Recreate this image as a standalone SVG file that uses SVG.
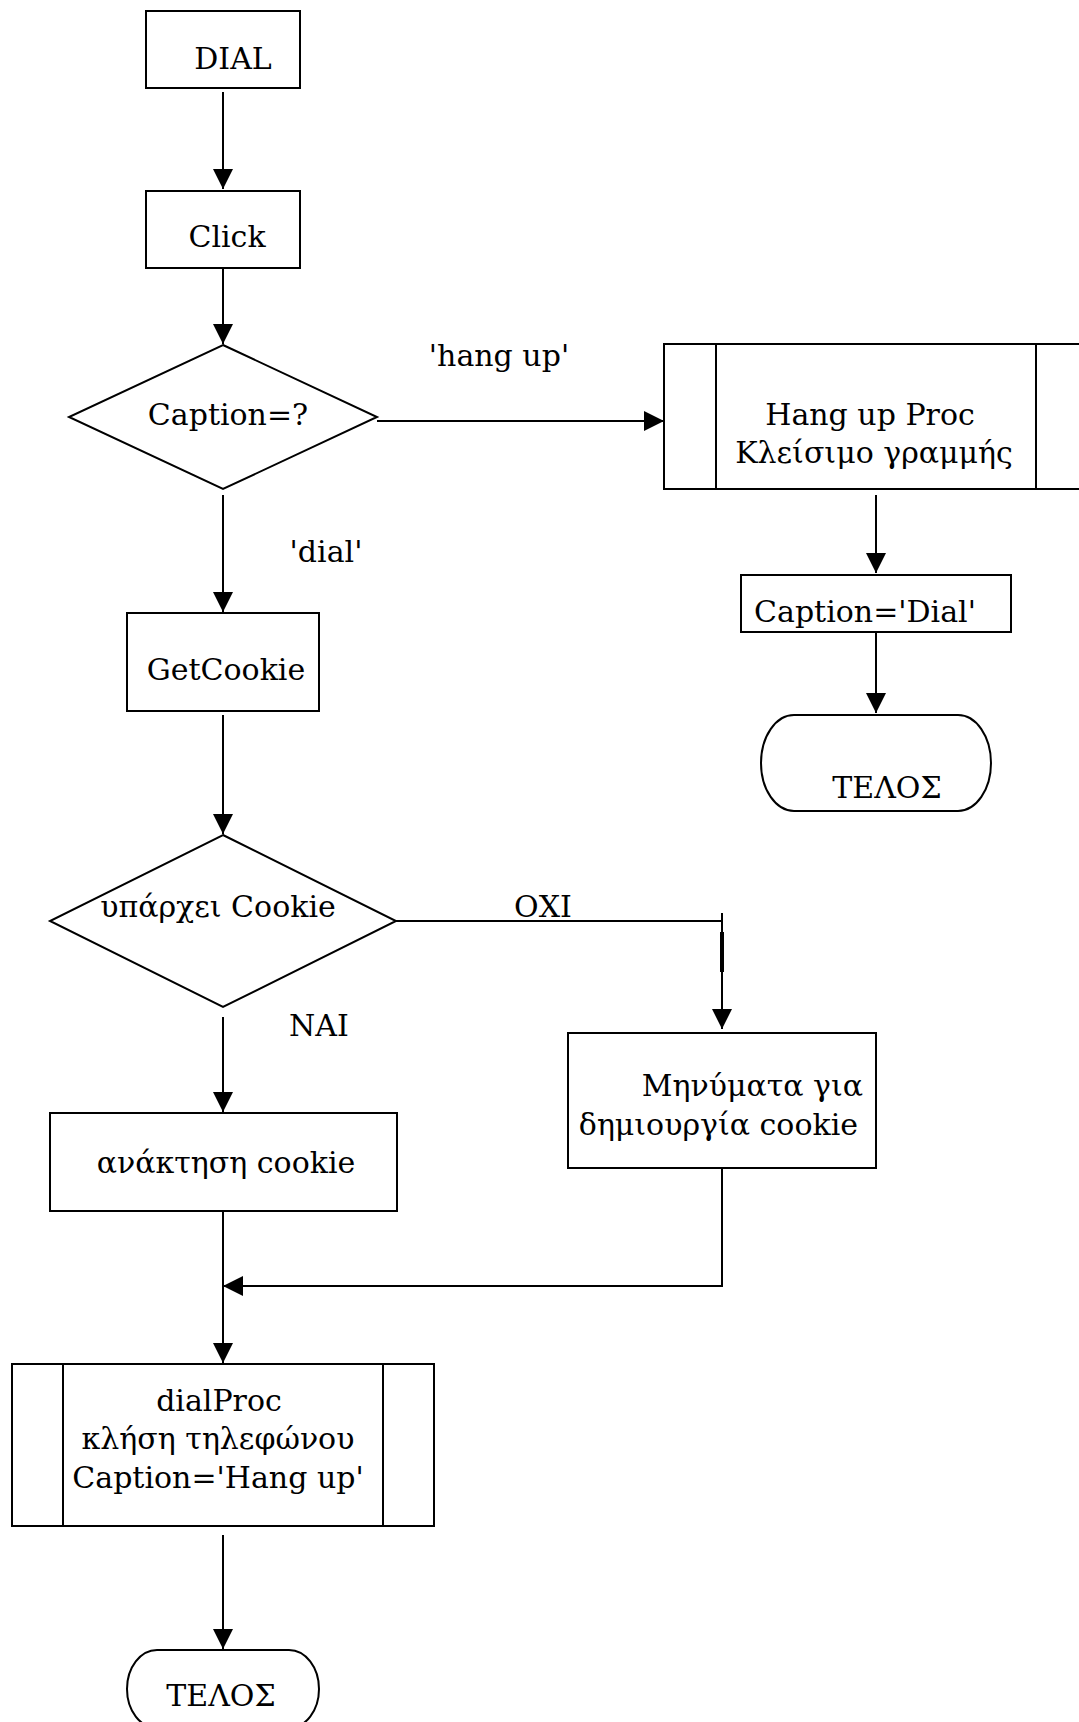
<svg xmlns="http://www.w3.org/2000/svg" width="1079" height="1722" viewBox="0 0 1079 1722">
<style>
.s{fill:#fff;stroke:#000;stroke-width:2}
.l{fill:none;stroke:#000;stroke-width:2}
.c{stroke:#000;stroke-width:2;fill:none}
text{font-family:"DejaVu Serif","Liberation Serif",serif;font-size:30px;fill:#000}
.m{text-anchor:middle}
.e{text-anchor:end}
</style>
<defs>
<marker id="ah" markerUnits="userSpaceOnUse" viewBox="0 0 20 20" refX="20" refY="10" markerWidth="20" markerHeight="20" orient="auto">
<path d="M0,0 L20,10 L0,20 z" fill="#000"/>
</marker>
</defs>
<rect width="1079" height="1722" fill="#fff"/>
<g id="connectors">
<line class="c" x1="223" y1="92" x2="223" y2="189" marker-end="url(#ah)"/>
<line class="c" x1="223" y1="268" x2="223" y2="344" marker-end="url(#ah)"/>
<line class="c" x1="377" y1="421" x2="664" y2="421" marker-end="url(#ah)"/>
<line class="c" x1="223" y1="495" x2="223" y2="612" marker-end="url(#ah)"/>
<line class="c" x1="223" y1="715" x2="223" y2="834" marker-end="url(#ah)"/>
<polyline class="c" points="396,921 722,921"/>
<line class="c" x1="722" y1="913" x2="722" y2="1029" marker-end="url(#ah)"/>
<line stroke="#000" stroke-width="4" x1="722" y1="932" x2="722" y2="972"/>
<line class="c" x1="223" y1="1017" x2="223" y2="1112" marker-end="url(#ah)"/>
<line class="c" x1="223" y1="1211" x2="223" y2="1363" marker-end="url(#ah)"/>
<polyline class="c" points="722,1168 722,1286 223,1286" marker-end="url(#ah)"/>
<line class="c" x1="223" y1="1535" x2="223" y2="1649" marker-end="url(#ah)"/>
<line class="c" x1="876" y1="495" x2="876" y2="573" marker-end="url(#ah)"/>
<line class="c" x1="876" y1="632" x2="876" y2="713" marker-end="url(#ah)"/>
<text x="499" y="366" class="m">'hang up'</text>
<text x="326" y="562" class="m">'dial'</text>
<text x="543" y="917" class="m">ΟΧΙ</text>
<text x="319" y="1036" class="m">ΝΑΙ</text>
</g>
<g id="dial">
<rect class="s" x="146" y="11" width="154" height="77"/>
<text x="233" y="69" class="m">DIAL</text>
</g>
<g id="click">
<rect class="s" x="146" y="191" width="154" height="77"/>
<text x="227" y="247" class="m">Click</text>
</g>
<g id="caption-decision">
<polygon class="s" points="223,345 377,417 223,489 69,417"/>
<text x="228" y="425" class="m">Caption=?</text>
</g>
<g id="hangup-proc">
<rect class="s" x="664" y="344" width="430" height="145"/>
<line class="l" x1="716" y1="344" x2="716" y2="489"/>
<line class="l" x1="1036" y1="344" x2="1036" y2="489"/>
<text x="870" y="425" class="m">Hang up Proc</text>
<text x="874" y="463" class="m">Κλείσιμο γραμμής</text>
</g>
<g id="caption-dial">
<rect class="s" x="741" y="575" width="270" height="57"/>
<text x="865" y="622" class="m">Caption='Dial'</text>
</g>
<g id="end-right">
<rect class="s" x="761" y="715" width="230" height="96" rx="33" ry="48"/>
<text x="887" y="798" class="m">ΤΕΛΟΣ</text>
</g>
<g id="getcookie">
<rect class="s" x="127" y="613" width="192" height="98"/>
<text x="226" y="680" class="m">GetCookie</text>
</g>
<g id="cookie-decision">
<polygon class="s" points="223,835 396,921 223,1007 50,921"/>
<text x="218" y="917" class="m">υπάρχει Cookie</text>
</g>
<g id="messages">
<rect class="s" x="568" y="1033" width="308" height="135"/>
<text x="863" y="1096" class="e">Μηνύματα για</text>
<text x="858" y="1135" class="e">δημιουργία cookie</text>
</g>
<g id="retrieve">
<rect class="s" x="50" y="1113" width="347" height="98"/>
<text x="226" y="1173" class="m">ανάκτηση cookie</text>
</g>
<g id="dialproc">
<rect class="s" x="12" y="1364" width="422" height="162"/>
<line class="l" x1="63" y1="1364" x2="63" y2="1526"/>
<line class="l" x1="383" y1="1364" x2="383" y2="1526"/>
<text x="219" y="1411" class="m">dialProc</text>
<text x="218" y="1449" class="m">κλήση τηλεφώνου</text>
<text x="218" y="1488" class="m">Caption='Hang up'</text>
</g>
<g id="end-left">
<rect class="s" x="127" y="1650" width="192" height="78" rx="30" ry="39"/>
<text x="221" y="1706" class="m">ΤΕΛΟΣ</text>
</g>
</svg>
